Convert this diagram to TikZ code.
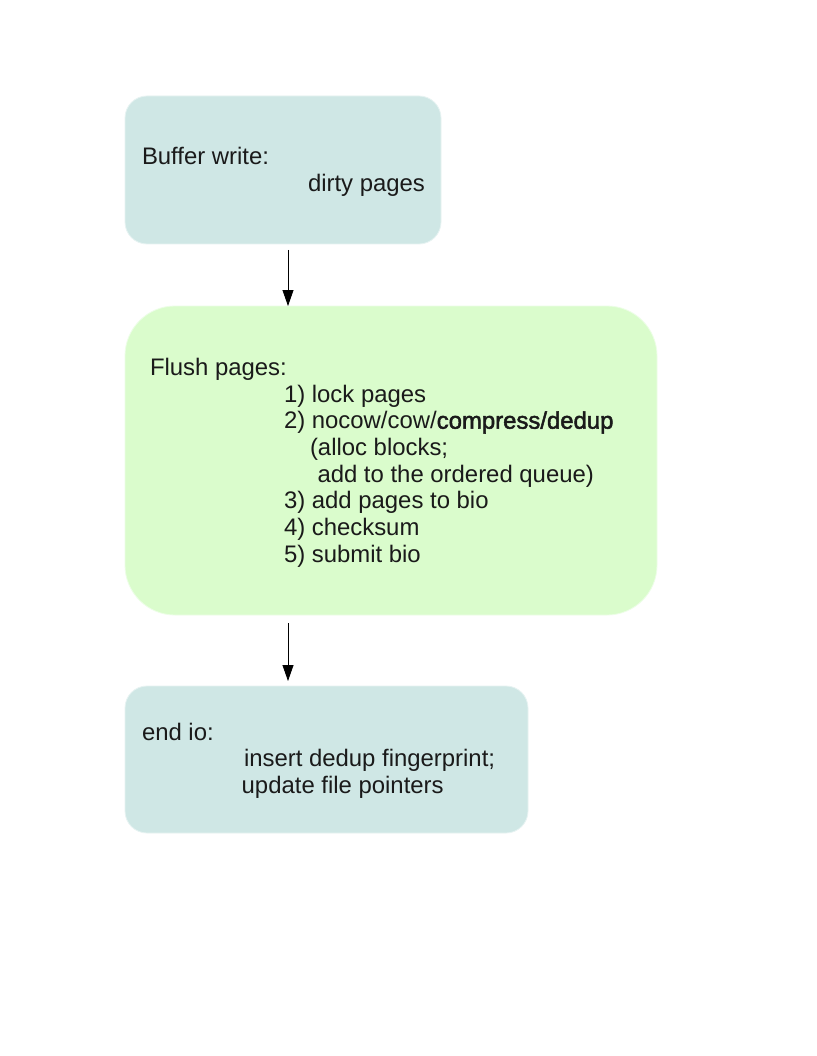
\documentclass[tikz,border=0pt]{standalone}
\usepackage{fontspec}
\setmainfont{Liberation Sans}
\usetikzlibrary{arrows.meta}
\definecolor{tealbox}{HTML}{CFE7E5}
\definecolor{greenbox}{HTML}{DAFCCC}
\definecolor{txt}{HTML}{1A1A1A}
\newcommand{\fakebold}[1]{{\addfontfeature{FakeBold=2}#1}}
\tikzset{
  boxbase/.style={rectangle, inner sep=0pt, outer sep=0pt, line width=0.8pt},
  tealnode/.style={boxbase, fill=tealbox, draw=tealbox!50!white, rounded corners=22pt},
  greennode/.style={boxbase, fill=greenbox, draw=greenbox!50!white, rounded corners=50pt},
  label/.style={anchor=base west, inner sep=0pt, outer sep=0pt, text=txt, font=\fontsize{23.9}{27}\selectfont},
  arr/.style={-{Triangle[length=16pt,width=11pt]}, line width=0.8pt, black}
}
\begin{document}
\begin{tikzpicture}[x=1pt,y=-1pt]
\useasboundingbox (0,0) rectangle (816,1056);
\fill[white] (0,0) rectangle (816,1056);
% boxes
\node[tealnode, minimum width=316pt, minimum height=148pt] (b1) at (283,170) {};
\node[greennode, minimum width=532pt, minimum height=309pt] (b2) at (391,460.5) {};
\node[tealnode, minimum width=403pt, minimum height=147pt] (b3) at (326.5,759.5) {};
% texts
\node[label] (t1a) at (142,165) {Buffer write:};
\node[label] (t1b) at (308,192) {dirty pages};
\node[label] (t2a) at (150,375) {Flush pages:};
\node[label] (t2b) at (284,402) {1) lock pages};
\node[label] (t2c) at (284,428.7) {2) nocow/cow/\fakebold{compress/dedup}};
\node[label] (t2d) at (310,455.3) {(alloc blocks;};
\node[label] (t2e) at (317.5,482) {add to the ordered queue)};
\node[label] (t2f) at (284,508.7) {3) add pages to bio};
\node[label] (t2g) at (284,535.3) {4) checksum};
\node[label] (t2h) at (284,562) {5) submit bio};
\node[label] (t3a) at (142,740) {end io:};
\node[label] (t3b) at (244,766.7) {insert dedup fingerprint;};
\node[label] (t3c) at (241.7,793) {update file pointers};
% connectors
\coordinate (ax) at (288,0);
\draw[arr, shorten <=6pt] (b1.south -| ax) -- (b2.north -| ax);
\draw[arr, shorten <=8pt, shorten >=5pt] (b2.south -| ax) -- (b3.north -| ax);
\end{tikzpicture}
\end{document}
